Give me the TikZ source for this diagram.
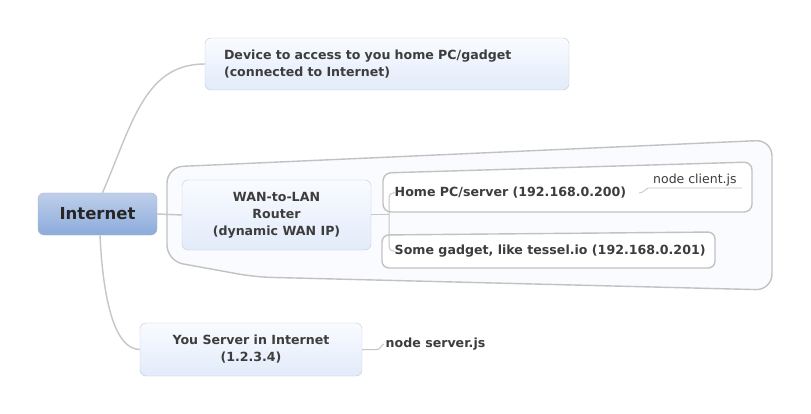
\documentclass[tikz,border=0pt]{standalone}
\usepackage{fontspec}
\setmainfont{DejaVu Sans}
\definecolor{linegray}{HTML}{C6C6C6}
\definecolor{boxgray}{HTML}{C3CAD6}
\definecolor{wrapgray}{HTML}{C2C2C2}
\definecolor{wrapfill}{HTML}{FAFBFE}
\definecolor{topictop}{HTML}{F9FBFF}
\definecolor{topicbot}{HTML}{E2EBFA}
\definecolor{nettop}{HTML}{BFCFEA}
\definecolor{netbot}{HTML}{8BABDB}
\definecolor{textgray}{HTML}{3D3D3D}
\begin{document}
\begin{tikzpicture}[x=1pt,y=-1pt,font=\bfseries\fontsize{12.6}{17}\selectfont,
	line/.style={draw=linegray,line width=1.4pt},
	topic/.style={draw=boxgray,rounded corners=6pt,top color=topictop,bottom color=topicbot,text=textgray,inner xsep=0pt,inner ysep=0pt,align=center},
	plain/.style={text=textgray,inner sep=1.5pt,anchor=west},
	wrap/.style={draw=wrapgray,line width=1.4pt,rounded corners=10pt,fill=wrapfill}]
	\useasboundingbox (0,0) rectangle (811,414);
	\fill[white] (0,0) rectangle (811,414);
	\path[wrap,rounded corners=16pt] (167,261) -- (167,167) -- (772,140) -- (772,290) -- (255,277) -- cycle;
	\path[wrap,rounded corners=8pt,fill=white] (383,212) -- (383,173) -- (752,162) -- (752,212) -- cycle;
	\path[wrap,rounded corners=7pt,fill=white] (382,268) -- (382,235) -- (715,232) -- (715,268) -- cycle;
	\node[topic,font=\bfseries\fontsize{16.5}{20}\selectfont,minimum width=119pt,minimum height=42pt,top color=nettop,bottom color=netbot,draw=boxgray!90!black,text=black!85] (internet) at (97.5,214) {Internet};
	\node[topic,minimum width=364pt,minimum height=52pt,text width=326pt,inner xsep=19pt,align=left] (device) at (387,64) {Device to access to you home PC/gadget\\(connected to Internet)};
	\node[topic,minimum width=189pt,minimum height=70pt] (router) at (276.5,215) {WAN-to-LAN\\Router\\(dynamic WAN IP)};
	\node[topic,minimum width=222pt,minimum height=53pt] (server) at (251,349.5) {You Server in Internet\\(1.2.3.4)};
	\node[plain] (serverjs) at (384,344) {node server.js};
	\node[plain] (homepc) at (393,193) {Home PC/server (192.168.0.200)};
	\node[plain] (gadget) at (393,251) {Some gadget, like tessel.io (192.168.0.201)};
	\node[plain,font=\mdseries\fontsize{12.5}{14}\selectfont,anchor=south west,inner xsep=5pt,inner ysep=2pt] (clientjs) at (648,188) {node client.js};
	\coordinate (trunk) at ([xshift=18pt]router.east);
	\draw[line] ([xshift=5pt]internet.north) .. controls +(30,-70) and +(-60,0) .. (device.west);
	\draw[line] ([xshift=2.5pt]internet.south) .. controls +(3,65) and +(-25,0) .. (server.west);
	\draw[line] (internet.east) -- (router.west);
	\draw[line,line width=1pt] (router.east) -- (trunk);
	\draw[line,line width=1pt,rounded corners=4pt] (homepc.west) -| (trunk) |- (gadget.west);
	\draw[line,line width=1pt] (server.east) -- ++(15,0) to[out=0,in=-160] (serverjs.west);
	\draw[line,line width=0.8pt] ([xshift=11pt]homepc.east) to[out=0,in=-150] (clientjs.south west) -- (clientjs.south east);
\end{tikzpicture}
\end{document}
